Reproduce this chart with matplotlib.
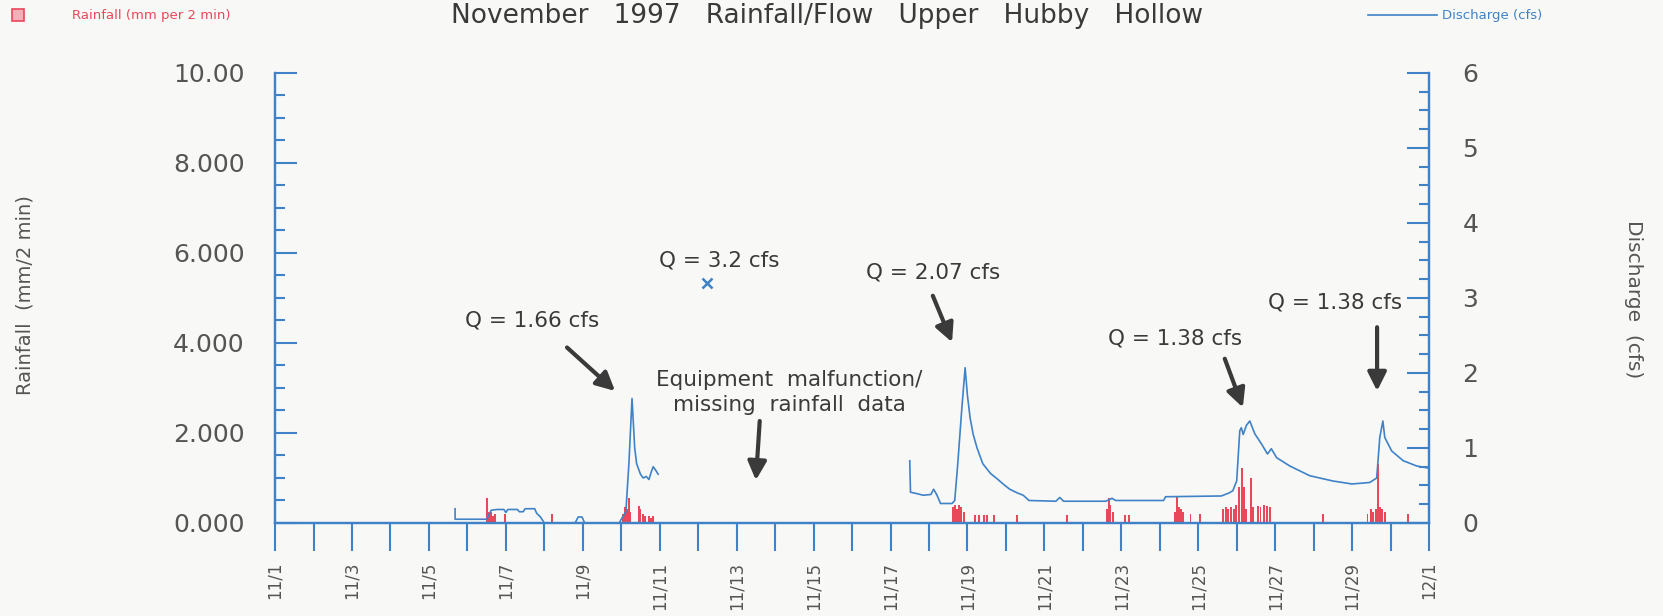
import numpy as np
import matplotlib.pyplot as plt
from matplotlib.lines import Line2D
from matplotlib.ticker import MultipleLocator

# time axis: days after 11/1 00:00
q_days = [4.68, 4.68, 5.50, 5.55, 5.62, 5.77, 5.95, 6.00, 6.05, 6.30, 6.35, 6.45,
          6.50, 6.75, 6.80, 6.90, 7.00, 7.80, 7.88, 7.98, 8.05, 8.95, 9.00, 9.12,
          9.20, 9.28, 9.35, 9.40, 9.50, 9.57, 9.65, 9.72, 9.78, 9.83, 9.90, 9.96,
          10.0,
          16.50, 16.52, 16.70, 16.85, 17.05, 17.12, 17.20, 17.30, 17.60, 17.67,
          17.75, 17.85, 17.94, 18.00, 18.07, 18.15, 18.25, 18.40, 18.60, 18.77,
          18.95, 19.10, 19.30, 19.45, 19.60, 20.30, 20.40, 20.50, 21.60, 21.76,
          21.85, 23.10, 23.15, 24.60, 24.80, 24.90, 25.00, 25.08, 25.12, 25.17,
          25.25, 25.34, 25.47, 25.65, 25.80, 25.90, 26.04, 26.38, 26.90, 27.50,
          28.00, 28.46, 28.64, 28.72, 28.80, 28.85, 29.03, 29.33, 29.68, 30.0]
q_cfs = [0.19, 0.05, 0.05, 0.10, 0.17, 0.18, 0.18, 0.14, 0.18, 0.18, 0.15, 0.15,
         0.19, 0.19, 0.13, 0.08, 0.0, 0.0, 0.08, 0.08, 0.0, 0.0, 0.05, 0.15,
         0.80, 1.66, 1.00, 0.79, 0.65, 0.60, 0.62, 0.58, 0.68, 0.75, 0.70, 0.65,
         np.nan,
         0.83, 0.41, 0.39, 0.37, 0.38, 0.45, 0.38, 0.26, 0.26, 0.30,
         0.80, 1.50, 2.07, 1.70, 1.40, 1.18, 1.00, 0.79, 0.66, 0.59,
         0.51, 0.45, 0.40, 0.37, 0.30, 0.29, 0.34, 0.29, 0.29, 0.33,
         0.30, 0.30, 0.35, 0.36, 0.40, 0.43, 0.56, 1.23, 1.27, 1.18,
         1.30, 1.36, 1.19, 1.05, 0.92, 0.99, 0.87, 0.76, 0.63, 0.56,
         0.52, 0.54, 0.60, 1.14, 1.36, 1.14, 0.96, 0.83, 0.76, 0.73]

rain_days = [5.50, 5.54, 5.58, 5.62, 5.67, 5.72, 5.98, 7.20,
             9.05, 9.10, 9.15, 9.20, 9.24, 9.45, 9.50, 9.56, 9.62, 9.72, 9.78, 9.83,
             17.62, 17.67, 17.72, 17.78, 17.84, 17.90,
             18.20, 18.30, 18.42, 18.50, 18.68, 19.30, 20.60,
             21.62, 21.67, 21.72, 21.78, 22.10, 22.20,
             23.40, 23.45, 23.50, 23.55, 23.60, 23.80, 24.05,
             24.65, 24.72, 24.78, 24.85, 24.92, 24.98, 25.05, 25.13, 25.19, 25.25,
             25.37, 25.43, 25.55, 25.62, 25.70, 25.78, 25.86,
             27.24, 28.40, 28.48, 28.55, 28.62, 28.68, 28.72, 28.78, 28.85, 29.45]
rain_mm = [0.55, 0.25, 0.20, 0.25, 0.15, 0.20, 0.20, 0.20,
           0.20, 0.35, 0.30, 0.55, 0.25, 0.38, 0.30, 0.20, 0.15, 0.15, 0.12, 0.15,
           0.35, 0.40, 0.30, 0.40, 0.35, 0.25,
           0.18, 0.18, 0.18, 0.18, 0.18, 0.18, 0.18,
           0.30, 0.56, 0.40, 0.25, 0.18, 0.18,
           0.25, 0.58, 0.35, 0.30, 0.25, 0.20, 0.20,
           0.30, 0.35, 0.30, 0.35, 0.30, 0.40, 0.80, 1.22, 0.80, 0.30,
           1.00, 0.35, 0.38, 0.35, 0.40, 0.38, 0.35,
           0.20, 0.20, 0.30, 0.25, 0.30, 1.30, 0.35, 0.30, 0.25, 0.20]

# field measurement
meas_day = [11.23]
meas_cfs = [3.2]

tick_days = list(range(31))
tick_labels = ['11/%d' % (d + 1) if d % 2 == 0 else '' for d in range(30)] + ['12/1']
rain_ticks = [0, 2, 4, 6, 8, 10]
rain_tick_labels = ['0.000', '2.000', '4.000', '6.000', '8.000', '10.00']

blue = '#3f82c8'
red = '#e8485a'
gray = '#555555'
dark = '#3a3a3a'
bg = '#f8f8f6'

fig = plt.figure(figsize=(16.63, 6.16), dpi=100, facecolor=bg)
ax = fig.add_axes([0.1654, 0.151, 0.8593 - 0.1654, 0.8815 - 0.151])
ax.set_facecolor(bg)
ax2 = ax.twinx()

ax.bar(rain_days, rain_mm, width=0.05, color=red, zorder=2)
ax2.plot(q_days, q_cfs, color=blue, lw=1.2, zorder=3)
ax2.plot(meas_day, meas_cfs, 'x', color=blue, ms=7, mew=1.8)

ax.set_xlim(0, 30)
ax.set_ylim(0, 10)
ax2.set_ylim(0, 6)

ax.set_xticks(tick_days)
ax.set_xticklabels(tick_labels, rotation=90, fontsize=12, color=gray)
ax.set_yticks(rain_ticks)
ax.set_yticklabels(rain_tick_labels, fontsize=18, color=gray)
ax.yaxis.set_minor_locator(MultipleLocator(0.5))
ax2.set_yticks(range(7))
ax2.set_yticklabels([str(v) for v in range(7)], fontsize=18, color=gray)
ax2.yaxis.set_minor_locator(MultipleLocator(0.25))

ax.tick_params(axis='x', direction='out', length=20, width=1.5, color=blue, pad=8)
ax.tick_params(axis='y', which='major', direction='in', length=16, width=1.5, color=blue, pad=22)
ax.tick_params(axis='y', which='minor', direction='in', length=7, width=1.5, color=blue)
ax2.tick_params(axis='y', which='major', direction='in', length=16, width=1.5, color=blue, pad=24)
ax2.tick_params(axis='y', which='minor', direction='in', length=7, width=1.5, color=blue)

for a in (ax, ax2):
    a.spines['top'].set_visible(False)
    for s in ('left', 'right', 'bottom'):
        a.spines[s].set_color(blue)
        a.spines[s].set_linewidth(1.6)

# annotations (positions in day / cfs units)
arrow = dict(arrowstyle='-|>', lw=3, color=dark, mutation_scale=28, shrinkA=0, shrinkB=0)
fs = 15.5
ax2.text(6.68, 2.70, 'Q = 1.66 cfs', ha='center', va='center', fontsize=fs, color=dark)
ax2.annotate('', xy=(8.84, 1.76), xytext=(7.59, 2.34), arrowprops=arrow)
ax2.text(11.54, 3.50, 'Q = 3.2 cfs', ha='center', va='center', fontsize=fs, color=dark)
ax2.text(13.36, 1.74, 'Equipment  malfunction/\nmissing  rainfall  data', ha='center',
         va='center', fontsize=fs, color=dark, linespacing=1.3)
ax2.annotate('', xy=(12.5, 0.57), xytext=(12.6, 1.36), arrowprops=arrow)
ax2.text(17.10, 3.34, 'Q = 2.07 cfs', ha='center', va='center', fontsize=fs, color=dark)
ax2.annotate('', xy=(17.6, 2.41), xytext=(17.10, 3.03), arrowprops=arrow)
ax2.text(23.39, 2.46, 'Q = 1.38 cfs', ha='center', va='center', fontsize=fs, color=dark)
ax2.annotate('', xy=(25.16, 1.54), xytext=(24.69, 2.19), arrowprops=arrow)
ax2.text(27.55, 2.94, 'Q = 1.38 cfs', ha='center', va='center', fontsize=fs, color=dark)
ax2.annotate('', xy=(28.65, 1.76), xytext=(28.65, 2.61), arrowprops=arrow)

# axis titles
fig.text(25 / 1663, 1 - 295 / 616, 'Rainfall  (mm/2 min)', rotation=90, ha='center',
         va='center', fontsize=14, color=gray)
fig.text(1633 / 1663, 1 - 299 / 616, 'Discharge  (cfs)', rotation=270, ha='center',
         va='center', fontsize=14.5, color=gray)

# title, kept just inside the top edge
fig.text(827 / 1663, 1 - 23 / 616, 'November   1997   Rainfall/Flow   Upper   Hubby   Hollow',
         ha='center', va='baseline', fontsize=19, color=dark)

# legend
fig.add_artist(Line2D([18 / 1663], [1 - 15 / 616], marker='s', ms=8, mfc='#f3b0b8',
                      mec=red, mew=1.2, transform=fig.transFigure))
fig.text(72 / 1663, 1 - 15 / 616, 'Rainfall (mm per 2 min)', ha='left', va='center',
         fontsize=9.5, color=red)
fig.add_artist(Line2D([1368 / 1663, 1437 / 1663], [1 - 15 / 616, 1 - 15 / 616], color=blue,
                      lw=1.2, transform=fig.transFigure))
fig.text(1442 / 1663, 1 - 15 / 616, 'Discharge (cfs)', ha='left', va='center',
         fontsize=9.5, color=blue)

fig.savefig('out.png', dpi=100, facecolor=bg)
